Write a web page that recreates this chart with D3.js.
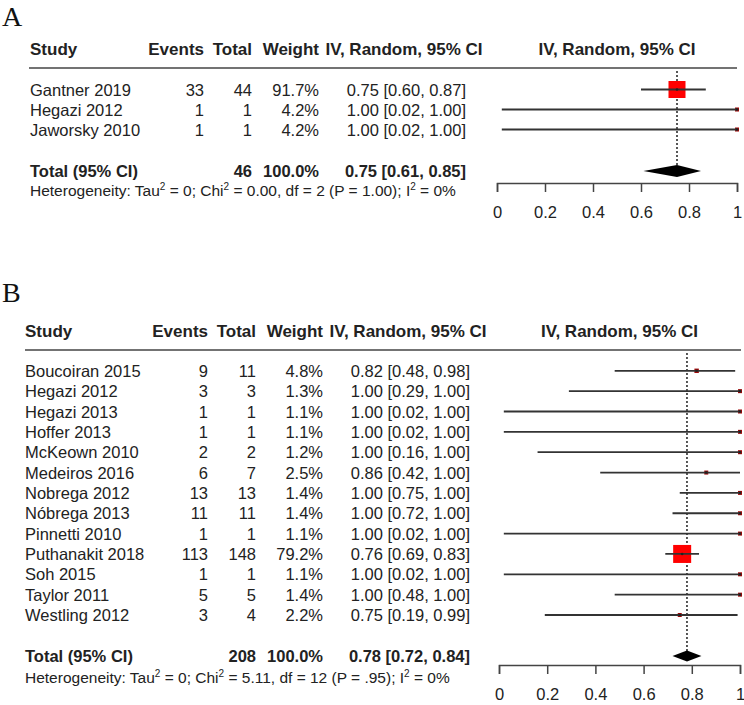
<!DOCTYPE html>
<meta charset="utf-8">
<style>
body { margin: 0; background: #fff; }
text { font-family: "Liberation Sans", Arial, sans-serif; fill: #222; }
.hdr { font-weight: bold; }
.panel-label { font-family: "Liberation Serif", "Times New Roman", serif; font-size: 28px; fill: #111; }
</style>
<svg width="744" height="705"></svg>
<script src="https://cdnjs.cloudflare.com/ajax/libs/d3/7.8.5/d3.min.js"></script>
<script>

// ---- panel A data ----
var studiesA = ["Gantner 2019", "Hegazi 2012", "Jaworsky 2010"];
var eventsA  = [33, 1, 1];
var totalsA  = [44, 1, 1];
var weightsA = [91.7, 4.2, 4.2];
var estA     = [0.75, 1.00, 1.00];
var lowerA   = [0.60, 0.02, 0.02];
var upperA   = [0.87, 1.00, 1.00];
var pooledA  = [46, 100.0, 0.75, 0.61, 0.85];   // total, weight, est, lower, upper
var hetA     = ["0", "0.00", "2", "1.00", "0%"]; // tau2, chi2, df, P, I2

// ---- panel B data ----
var studiesB = ["Boucoiran 2015", "Hegazi 2012", "Hegazi 2013", "Hoffer 2013", "McKeown 2010",
                "Medeiros 2016", "Nobrega 2012", "Nóbrega 2013", "Pinnetti 2010", "Puthanakit 2018",
                "Soh 2015", "Taylor 2011", "Westling 2012"];
var eventsB  = [9, 3, 1, 1, 2, 6, 13, 11, 1, 113, 1, 5, 3];
var totalsB  = [11, 3, 1, 1, 2, 7, 13, 11, 1, 148, 1, 5, 4];
var weightsB = [4.8, 1.3, 1.1, 1.1, 1.2, 2.5, 1.4, 1.4, 1.1, 79.2, 1.1, 1.4, 2.2];
var estB     = [0.82, 1.00, 1.00, 1.00, 1.00, 0.86, 1.00, 1.00, 1.00, 0.76, 1.00, 1.00, 0.75];
var lowerB   = [0.48, 0.29, 0.02, 0.02, 0.16, 0.42, 0.75, 0.72, 0.02, 0.69, 0.02, 0.48, 0.19];
var upperB   = [0.98, 1.00, 1.00, 1.00, 1.00, 1.00, 1.00, 1.00, 1.00, 0.83, 1.00, 1.00, 0.99];
var pooledB  = [208, 100.0, 0.78, 0.72, 0.84];
var hetB     = ["0", "5.11", "12", ".95", "0%"];

var axisTicks = [0, 0.2, 0.4, 0.6, 0.8, 1];

var svg = d3.select("svg");
var f2 = d3.format(".2f"), f1 = d3.format(".1f");

function ciText(e, l, u) { return f2(e) + " [" + f2(l) + ", " + f2(u) + "]"; }

function drawPanel(p) {
  var g = svg.append("g");
  var rows = p.studies.map(function(s, i) {
    return {study: s, events: p.events[i], total: p.totals[i], weight: p.weights[i],
            est: p.est[i], lo: p.lower[i], hi: p.upper[i]};
  });

  var x = d3.scaleLinear().domain([0, 1]).range(p.xRange);
  var y = d3.scaleLinear().domain([0, 1]).range([p.row0, p.row0 + p.step]);
  var size = d3.scaleSqrt().domain([0, d3.max(p.weights)]).range([0, p.maxBox]);

  g.append("text").attr("class", "panel-label").attr("x", p.labelX).attr("y", p.labelY).text(p.label);

  // headers
  var hs = 17;
  function hdr(txt, xx, anchor) {
    g.append("text").attr("class", "hdr").attr("x", xx).attr("y", p.headY)
      .attr("text-anchor", anchor).attr("font-size", hs).text(txt);
  }
  hdr("Study", p.cols.study, "start");
  hdr("Events", p.cols.events, "end");
  hdr("Total", p.cols.total, "end");
  hdr("Weight", p.cols.weight, "end");
  hdr("IV, Random, 95% CI", p.cols.ciHead, "middle");
  hdr("IV, Random, 95% CI", (p.xRange[0] + p.xRange[1]) / 2, "middle");

  g.append("line").attr("x1", p.lineX[0]).attr("x2", p.lineX[1])
    .attr("y1", p.headLine).attr("y2", p.headLine)
    .attr("stroke", "#444").attr("stroke-width", 1.6);

  // study rows text
  var row = g.selectAll("g.row").data(rows).enter().append("g").attr("class", "row")
    .attr("font-size", 16.5);
  row.append("text").attr("x", p.cols.study).attr("y", function(d, i) { return y(i) + 6; })
    .text(function(d) { return d.study; });
  row.append("text").attr("x", p.cols.events).attr("text-anchor", "end")
    .attr("y", function(d, i) { return y(i) + 6; }).text(function(d) { return d.events; });
  row.append("text").attr("x", p.cols.total).attr("text-anchor", "end")
    .attr("y", function(d, i) { return y(i) + 6; }).text(function(d) { return d.total; });
  row.append("text").attr("x", p.cols.weight).attr("text-anchor", "end")
    .attr("y", function(d, i) { return y(i) + 6; }).text(function(d) { return f1(d.weight) + "%"; });
  row.append("text").attr("x", p.cols.ci).attr("text-anchor", "end")
    .attr("y", function(d, i) { return y(i) + 6; }).text(function(d) { return ciText(d.est, d.lo, d.hi); });

  // pooled row text
  var ty = p.totalY + 6;
  var tg = g.append("g").attr("class", "hdr").attr("font-size", 16.5).attr("font-weight", "bold");
  tg.append("text").attr("x", p.cols.study).attr("y", ty).text("Total (95% CI)");
  tg.append("text").attr("x", p.cols.total).attr("y", ty).attr("text-anchor", "end").text(p.pooled[0]);
  tg.append("text").attr("x", p.cols.weight).attr("y", ty).attr("text-anchor", "end").text(f1(p.pooled[1]) + "%");
  tg.append("text").attr("x", p.cols.ci).attr("y", ty).attr("text-anchor", "end")
    .text(ciText(p.pooled[2], p.pooled[3], p.pooled[4]));

  // heterogeneity line, superscripts raised then dropped back
  var ht = g.append("text").attr("x", p.cols.study).attr("y", p.hetY).attr("font-size", 15.5).attr("fill", "#333");
  var parts = ["Heterogeneity: Tau",
               " = " + p.het[0] + "; Chi",
               " = " + p.het[1] + ", df = " + p.het[2] + " (P = " + p.het[3] + "); I",
               " = " + p.het[4]];
  parts.forEach(function(t, i) {
    ht.append("tspan").attr("dy", i ? 6 : 0).text(t);
    if (i < parts.length - 1) ht.append("tspan").attr("dy", -6).attr("font-size", 10).text("2");
  });

  // dotted line at pooled estimate
  g.append("line").attr("x1", x(p.pooled[2])).attr("x2", x(p.pooled[2]))
    .attr("y1", p.headLine + 3).attr("y2", p.totalY)
    .attr("stroke", "#111").attr("stroke-width", 1.4).attr("stroke-dasharray", "2,2");

  // boxes then CI lines
  var marks = g.selectAll("g.mark").data(rows).enter().append("g").attr("class", "mark");
  marks.append("rect")
    .attr("x", function(d) { return x(d.est) - Math.max(4, size(d.weight)) / 2; })
    .attr("y", function(d, i) { return y(i) - Math.max(4, size(d.weight)) / 2; })
    .attr("width", function(d) { return Math.max(4, size(d.weight)); })
    .attr("height", function(d) { return Math.max(4, size(d.weight)); })
    .attr("fill", function(d) { return size(d.weight) < 6 ? "#a00808" : "#ff0000"; });
  marks.append("line")
    .attr("x1", function(d) { return x(d.lo); }).attr("x2", function(d) { return x(d.hi); })
    .attr("y1", function(d, i) { return y(i); }).attr("y2", function(d, i) { return y(i); })
    .attr("stroke", "#333").attr("stroke-width", 1.8);
  marks.append("circle")
    .attr("cx", function(d) { return x(d.est); }).attr("cy", function(d, i) { return y(i); })
    .attr("r", 1.3).attr("fill", "#222");

  // pooled diamond
  var h = p.diamondH / 2;
  g.append("path")
    .attr("d", "M" + x(p.pooled[3]) + "," + p.totalY +
               "L" + x(p.pooled[2]) + "," + (p.totalY - h) +
               "L" + x(p.pooled[4]) + "," + p.totalY +
               "L" + x(p.pooled[2]) + "," + (p.totalY + h) + "Z")
    .attr("fill", "#000");

  // x axis
  var ax = g.append("g").attr("transform", "translate(0," + p.axisY + ")")
    .call(d3.axisBottom(x).tickValues(axisTicks).tickSize(9).tickPadding(14)
      .tickFormat(function(d) { return d === 0 || d === 1 ? d : d3.format(".1f")(d); }));
  ax.select(".domain").attr("stroke", "#444").attr("stroke-width", 1.5);
  ax.selectAll(".tick line").attr("stroke", "#444").attr("stroke-width", 1.5);
  ax.selectAll(".tick text").attr("font-size", 16.5).attr("fill", "#222")
    .attr("font-family", "Liberation Sans, Arial, sans-serif");
}

drawPanel({
  label: "A", labelX: 2, labelY: 26,
  studies: studiesA, events: eventsA, totals: totalsA, weights: weightsA,
  est: estA, lower: lowerA, upper: upperA, pooled: pooledA, het: hetA,
  xRange: [497, 737], row0: 89.5, step: 20, maxBox: 17,
  headY: 55, headLine: 68, lineX: [29, 737],
  totalY: 171, hetY: 196, axisY: 183, diamondH: 12,
  cols: {study: 30, events: 204, total: 252, weight: 319, ci: 466, ciHead: 404}
});

drawPanel({
  label: "B", labelX: 2, labelY: 302,
  studies: studiesB, events: eventsB, totals: totalsB, weights: weightsB,
  est: estB, lower: lowerB, upper: upperB, pooled: pooledB, het: hetB,
  xRange: [499, 740], row0: 370.8, step: 20.35, maxBox: 18,
  headY: 337, headLine: 350, lineX: [25, 741],
  totalY: 656, hetY: 683, axisY: 665, diamondH: 11,
  cols: {study: 25, events: 208, total: 256, weight: 323, ci: 470, ciHead: 408}
});

</script>
